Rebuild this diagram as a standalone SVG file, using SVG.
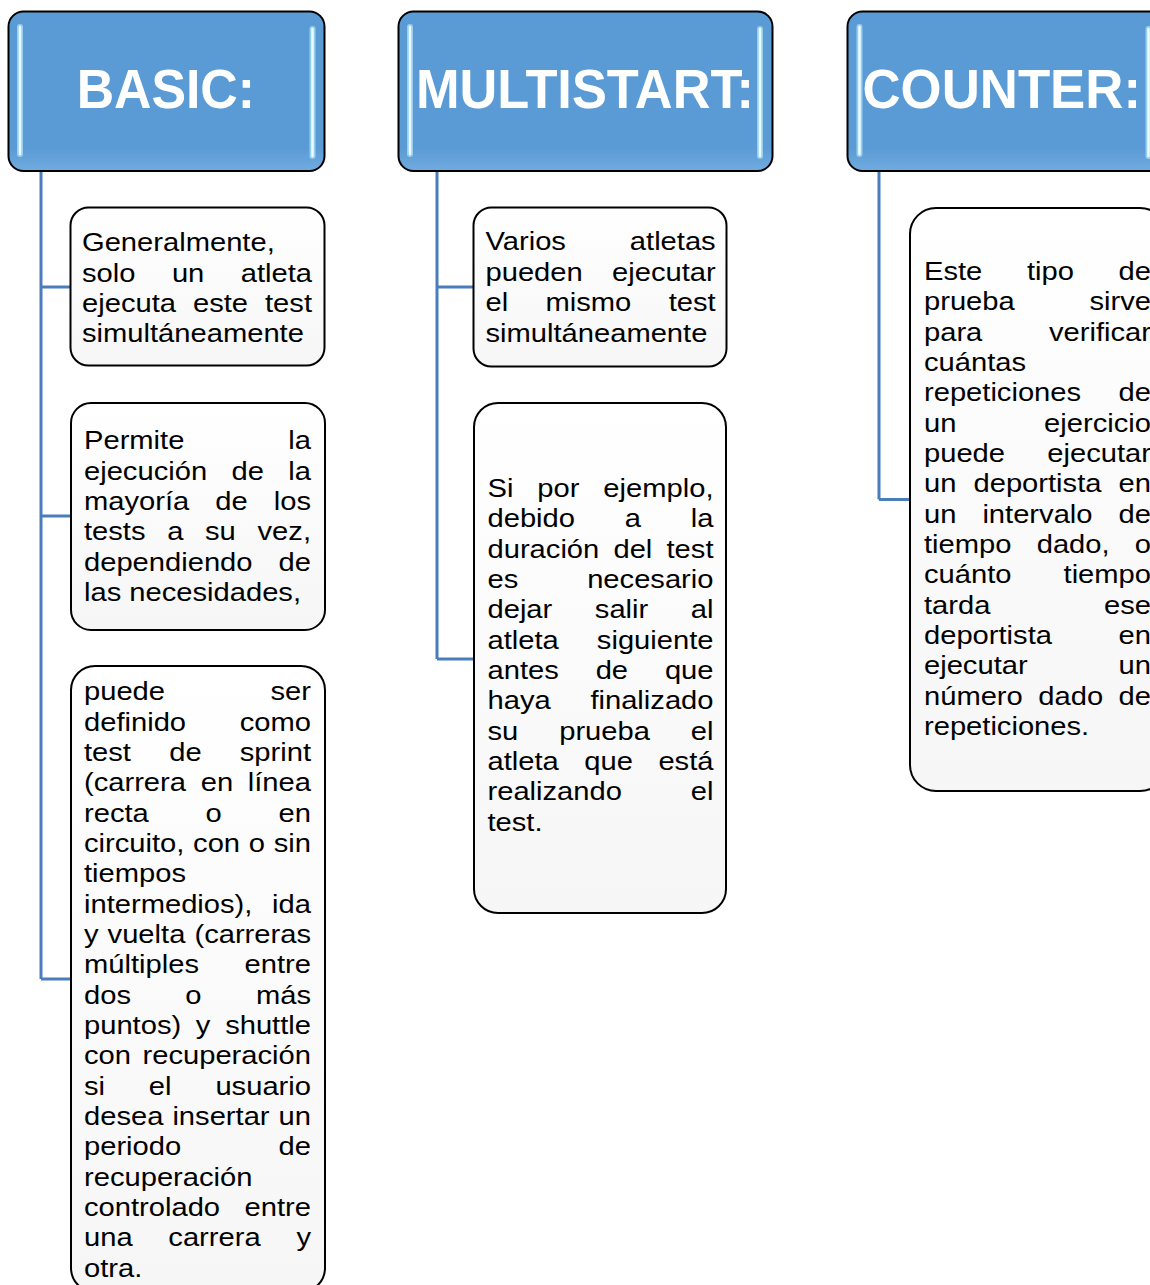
<svg xmlns="http://www.w3.org/2000/svg" width="1150" height="1285" viewBox="0 0 1150 1285">
<defs>
<linearGradient id="hg" x1="0" y1="0" x2="0" y2="1">
<stop offset="0" stop-color="#5b9bd5"/>
<stop offset="0.86" stop-color="#5b9bd5"/>
<stop offset="1" stop-color="#71abe0"/>
</linearGradient>
<linearGradient id="bg" x1="0" y1="0" x2="0" y2="1">
<stop offset="0" stop-color="#ffffff"/>
<stop offset="1" stop-color="#f6f6f6"/>
</linearGradient>
</defs>
<style>
.hdr{fill:url(#hg);stroke:#000;stroke-width:2}
.hlg{stroke:#a8dcf8;stroke-width:6;stroke-linecap:round;opacity:.8}
.hl{stroke:#eafcff;stroke-width:2.5;stroke-linecap:round}
.ht{font-family:"Liberation Sans",Arial,sans-serif;font-weight:bold;font-size:56px;fill:#fff}
.box{fill:url(#bg);stroke:#000;stroke-width:2}
.t{font-family:"Liberation Sans",Arial,sans-serif;font-size:26.5px;fill:#000}
.e{text-anchor:end}
.conn{fill:none;stroke:#4a7ebb;stroke-width:3}
</style>
<rect width="1150" height="1285" fill="#fff"/>

<g id="connectors">
<path class="conn" d="M41 171V979M41 287H71M41 516H71M41 979H71"/>
<path class="conn" d="M437 171V659M437 287H474M437 659H474"/>
<path class="conn" d="M879 171V499.5M879 499.5H910"/>
</g>

<g id="hdr-basic">
<rect class="hdr" x="8.5" y="11.5" width="316" height="159.5" rx="15"/>
<line class="hlg" x1="20" y1="27" x2="20" y2="154"/><line class="hl" x1="20" y1="27" x2="20" y2="154"/>
<line class="hlg" x1="312.5" y1="29" x2="312.5" y2="156"/><line class="hl" x1="312.5" y1="29" x2="312.5" y2="156"/>
<text class="ht" x="76.7" y="108" textLength="178.3" lengthAdjust="spacingAndGlyphs">BASIC:</text>
</g>

<g id="hdr-multistart">
<rect class="hdr" x="398.5" y="11.5" width="374" height="159.5" rx="15"/>
<line class="hlg" x1="410" y1="27" x2="410" y2="154"/><line class="hl" x1="410" y1="27" x2="410" y2="154"/>
<line class="hlg" x1="760" y1="29" x2="760" y2="156"/><line class="hl" x1="760" y1="29" x2="760" y2="156"/>
<text class="ht" x="416" y="108" textLength="338" lengthAdjust="spacingAndGlyphs">MULTISTART:</text>
</g>

<g id="hdr-counter">
<rect class="hdr" x="847.5" y="11.5" width="320" height="159.5" rx="15"/>
<line class="hlg" x1="859.5" y1="27" x2="859.5" y2="154"/><line class="hl" x1="859.5" y1="27" x2="859.5" y2="154"/>
<line class="hlg" x1="1148.5" y1="29" x2="1148.5" y2="156"/><line class="hl" x1="1148.5" y1="29" x2="1148.5" y2="156"/>
<text class="ht" x="862.5" y="108" textLength="278.5" lengthAdjust="spacingAndGlyphs">COUNTER:</text>
</g>

<g id="basic-1">
<rect class="box" x="70.5" y="207.5" width="254" height="158" rx="18"/>
<g class="t" transform="scale(1.1,1)">
<text x="74.55" y="251.5">Generalmente,</text>
<text x="74.55" y="281.7">solo</text><text x="156.27" y="281.7">un</text><text class="e" x="283.64" y="281.7">atleta</text>
<text x="74.55" y="311.9">ejecuta</text><text x="175.45" y="311.9">este</text><text class="e" x="283.64" y="311.9">test</text>
<text x="74.55" y="342.1">simultáneamente</text>
</g>
</g>

<g id="basic-2">
<rect class="box" x="71" y="403" width="254" height="227" rx="20"/>
<g class="t" transform="scale(1.1,1)">
<text x="76.36" y="449.3">Permite</text><text class="e" x="282.73" y="449.3">la</text>
<text x="76.36" y="479.65">ejecución</text><text x="210.45" y="479.65">de</text><text class="e" x="282.73" y="479.65">la</text>
<text x="76.36" y="510">mayoría</text><text x="195.73" y="510">de</text><text class="e" x="282.73" y="510">los</text>
<text x="76.36" y="540.35">tests</text><text x="152" y="540.35">a</text><text x="186.36" y="540.35">su</text><text class="e" x="282.73" y="540.35">vez,</text>
<text x="76.36" y="570.7">dependiendo</text><text class="e" x="282.73" y="570.7">de</text>
<text x="76.36" y="601.05">las necesidades,</text>
</g>
</g>

<g id="basic-3">
<rect class="box" x="71" y="666" width="254" height="626" rx="24"/>
<g class="t" transform="scale(1.1,1)">
<text x="76.36" y="700.5">puede</text><text class="e" x="282.73" y="700.5">ser</text>
<text x="76.36" y="730.82">definido</text><text class="e" x="282.73" y="730.82">como</text>
<text x="76.36" y="761.13">test</text><text x="153.82" y="761.13">de</text><text class="e" x="282.73" y="761.13">sprint</text>
<text x="76.36" y="791.45">(carrera</text><text x="182.45" y="791.45">en</text><text class="e" x="282.73" y="791.45">línea</text>
<text x="76.36" y="821.76">recta</text><text x="186.91" y="821.76">o</text><text class="e" x="282.73" y="821.76">en</text>
<text x="76.36" y="852.08">circuito,</text><text x="175.55" y="852.08">con</text><text x="226.18" y="852.08">o</text><text class="e" x="282.73" y="852.08">sin</text>
<text x="76.36" y="882.4">tiempos</text>
<text x="76.36" y="912.71">intermedios),</text><text class="e" x="282.73" y="912.71">ida</text>
<text x="76.36" y="943.03">y</text><text x="97.82" y="943.03">vuelta</text><text class="e" x="282.73" y="943.03">(carreras</text>
<text x="76.36" y="973.34">múltiples</text><text class="e" x="282.73" y="973.34">entre</text>
<text x="76.36" y="1003.66">dos</text><text x="168.5" y="1003.66">o</text><text class="e" x="282.73" y="1003.66">más</text>
<text x="76.36" y="1033.98">puntos)</text><text x="178.05" y="1033.98">y</text><text class="e" x="282.73" y="1033.98">shuttle</text>
<text x="76.36" y="1064.29">con</text><text class="e" x="282.73" y="1064.29">recuperación</text>
<text x="76.36" y="1094.61">si</text><text x="135.32" y="1094.61">el</text><text class="e" x="282.73" y="1094.61">usuario</text>
<text x="76.36" y="1124.92">desea</text><text x="156.73" y="1124.92">insertar</text><text class="e" x="282.73" y="1124.92">un</text>
<text x="76.36" y="1155.24">periodo</text><text class="e" x="282.73" y="1155.24">de</text>
<text x="76.36" y="1185.56">recuperación</text>
<text x="76.36" y="1215.87">controlado</text><text class="e" x="282.73" y="1215.87">entre</text>
<text x="76.36" y="1246.19">una</text><text x="153.05" y="1246.19">carrera</text><text class="e" x="282.73" y="1246.19">y</text>
<text x="76.36" y="1276.5">otra.</text>
</g>
</g>

<g id="multistart-1">
<rect class="box" x="473.5" y="207.5" width="253" height="159" rx="18"/>
<g class="t" transform="scale(1.1,1)">
<text x="441.36" y="250.5">Varios</text><text class="e" x="650.64" y="250.5">atletas</text>
<text x="441.36" y="281">pueden</text><text class="e" x="650.64" y="281">ejecutar</text>
<text x="441.36" y="311.4">el</text><text x="495.86" y="311.4">mismo</text><text class="e" x="650.64" y="311.4">test</text>
<text x="441.36" y="341.8">simultáneamente</text>
</g>
</g>

<g id="multistart-2">
<rect class="box" x="474" y="403" width="252" height="510" rx="24"/>
<g class="t" transform="scale(1.1,1)">
<text x="443.18" y="497">Si</text><text x="488.45" y="497">por</text><text class="e" x="648.64" y="497">ejemplo,</text>
<text x="443.18" y="527.33">debido</text><text x="568" y="527.33">a</text><text class="e" x="648.64" y="527.33">la</text>
<text x="443.18" y="557.66">duración</text><text x="557.68" y="557.66">del</text><text class="e" x="648.64" y="557.66">test</text>
<text x="443.18" y="587.99">es</text><text class="e" x="648.64" y="587.99">necesario</text>
<text x="443.18" y="618.32">dejar</text><text x="540.77" y="618.32">salir</text><text class="e" x="648.64" y="618.32">al</text>
<text x="443.18" y="648.65">atleta</text><text class="e" x="648.64" y="648.65">siguiente</text>
<text x="443.18" y="678.98">antes</text><text x="541.5" y="678.98">de</text><text class="e" x="648.64" y="678.98">que</text>
<text x="443.18" y="709.31">haya</text><text class="e" x="648.64" y="709.31">finalizado</text>
<text x="443.18" y="739.64">su</text><text x="508.36" y="739.64">prueba</text><text class="e" x="648.64" y="739.64">el</text>
<text x="443.18" y="769.97">atleta</text><text x="531.18" y="769.97">que</text><text class="e" x="648.64" y="769.97">está</text>
<text x="443.18" y="800.3">realizando</text><text class="e" x="648.64" y="800.3">el</text>
<text x="443.18" y="830.63">test.</text>
</g>
</g>

<g id="counter-1">
<rect class="box" x="910" y="208" width="256" height="583" rx="26"/>
<g class="t" transform="scale(1.1,1)">
<text x="840" y="280">Este</text><text x="933.59" y="280">tipo</text><text class="e" x="1046.36" y="280">de</text>
<text x="840" y="310.33">prueba</text><text class="e" x="1046.36" y="310.33">sirve</text>
<text x="840" y="340.66">para</text><text class="e" x="1046.36" y="340.66">verificar</text>
<text x="840" y="370.99">cuántas</text>
<text x="840" y="401.32">repeticiones</text><text class="e" x="1046.36" y="401.32">de</text>
<text x="840" y="431.65">un</text><text class="e" x="1046.36" y="431.65">ejercicio</text>
<text x="840" y="461.98">puede</text><text class="e" x="1046.36" y="461.98">ejecutar</text>
<text x="840" y="492.31">un</text><text x="885" y="492.31">deportista</text><text class="e" x="1046.36" y="492.31">en</text>
<text x="840" y="522.64">un</text><text x="893.09" y="522.64">intervalo</text><text class="e" x="1046.36" y="522.64">de</text>
<text x="840" y="552.97">tiempo</text><text x="942.45" y="552.97">dado,</text><text class="e" x="1046.36" y="552.97">o</text>
<text x="840" y="583.3">cuánto</text><text class="e" x="1046.36" y="583.3">tiempo</text>
<text x="840" y="613.63">tarda</text><text class="e" x="1046.36" y="613.63">ese</text>
<text x="840" y="643.96">deportista</text><text class="e" x="1046.36" y="643.96">en</text>
<text x="840" y="674.29">ejecutar</text><text class="e" x="1046.36" y="674.29">un</text>
<text x="840" y="704.62">número</text><text x="943.91" y="704.62">dado</text><text class="e" x="1046.36" y="704.62">de</text>
<text x="840" y="734.95">repeticiones.</text>
</g>
</g>
</svg>
